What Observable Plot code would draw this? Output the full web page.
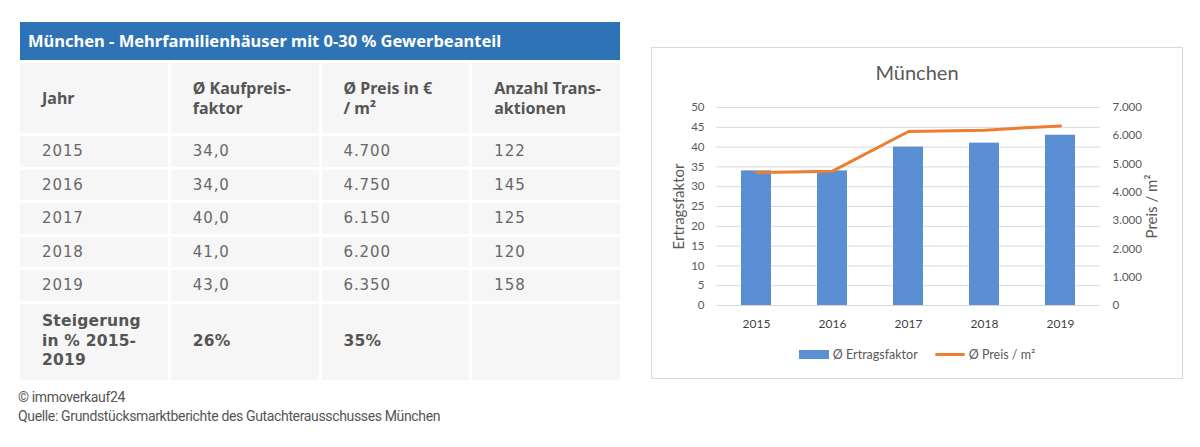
<!DOCTYPE html>
<html>
<head>
<meta charset="utf-8">
<script src="https://cdn.jsdelivr.net/npm/d3@7"></script>
<script src="https://cdn.jsdelivr.net/npm/@observablehq/plot@0.6"></script>
<style>
  html, body { margin: 0; padding: 0; background: #fff; }
  body { width: 1200px; height: 447px; position: relative; overflow: hidden; font-family: "Noto Sans", sans-serif; }
  #tbl { position: absolute; left: 20px; top: 22px; width: 600px; }
  #tbl .head { background: #2e73b6; color: #fff; font-weight: 700; font-size: 16.5px; height: 38px; line-height: 38px; padding-left: 8px; box-sizing: border-box; }
  #tbl .grid { margin-top: 3px; display: grid; grid-template-columns: repeat(4, 1fr); column-gap: 3px; row-gap: 3px; grid-template-rows: 70px repeat(5, 30.5px) 76px; }
  #tbl .cell { background: #f6f6f6; display: flex; align-items: center; padding-left: 22px; box-sizing: border-box; font-size: 15px; color: #686868; letter-spacing: 0.9px; font-family: "DejaVu Sans", sans-serif; font-weight: 400; }
  #tbl .cell.b { font-family: "Noto Sans", sans-serif; font-weight: 700; color: #555; letter-spacing: 0; font-size: 16px; line-height: 20px; }
  #tbl .cell.s { font-family: "DejaVu Sans", sans-serif; font-size: 15.5px; letter-spacing: 0.2px; line-height: 19.5px; }
  #cap { position: absolute; left: 18px; top: 388px; font-family: "Roboto", sans-serif; font-size: 14px; letter-spacing: -0.35px; color: #555; line-height: 19px; }
  #frame { position: absolute; left: 651px; top: 47px; width: 532px; height: 332px; border: 1px solid #d9d9d9; box-sizing: border-box; }
  #ctitle { position: absolute; left: 651px; top: 60px; width: 532px; text-align: center; font-family: Lato, sans-serif; font-size: 20px; color: #595959; }
  #chart { position: absolute; left: 652px; top: 95px; }
  #chart svg g[aria-label="y-axis label"] text { font-size: 15px; }
  #legend { position: absolute; left: 651px; top: 347px; width: 532px; display: flex; justify-content: center; align-items: center; font-family: Lato, sans-serif; font-size: 12.5px; color: #595959; }
  .sw { display: inline-block; width: 30px; margin-right: 4px; }
</style>
</head>
<body>
<div id="tbl"></div>
<div id="cap"></div>
<div id="frame"></div>
<div id="ctitle"></div>
<div id="chart"></div>
<div id="legend"></div>
<script>
// ---- data ----
const tableTitle = "München - Mehrfamilienhäuser mit 0-30 % Gewerbeanteil";
const headers = ["Jahr", "Ø Kaufpreis-<br>faktor", "Ø Preis in €<br>/ m²", "Anzahl Trans-<br>aktionen"];
const years = ["2015", "2016", "2017", "2018", "2019"];
const kaufpreisfaktor = [34.0, 34.0, 40.0, 41.0, 43.0];
const preisProQm = [4700, 4750, 6150, 6200, 6350];
const transaktionen = [122, 145, 125, 120, 158];
const steigerungLabel = "Steigerung<br>in % 2015-<br>2019";
const steigerung = ["26%", "35%", ""];
const captionLines = ["© immoverkauf24", "Quelle: Grundstücksmarktberichte des Gutachterausschusses München"];
const chartTitle = "München";
const leftTicks = [0, 5, 10, 15, 20, 25, 30, 35, 40, 45, 50];
const rightTicks = [0, 1000, 2000, 3000, 4000, 5000, 6000, 7000];
const seriesNames = ["Ø Ertragsfaktor", "Ø Preis / m²"];

const de = d3.formatLocale({decimal: ",", thousands: ".", grouping: [3], currency: ["", " €"]});
const fmtInt = de.format(",");
const fmt1 = de.format(",.1f");

// ---- table ----
const tbl = document.getElementById("tbl");
let html = `<div class="head">${tableTitle}</div><div class="grid">`;
headers.forEach(h => html += `<div class="cell b">${h}</div>`);
years.forEach((y, i) => {
  html += `<div class="cell">${y}</div><div class="cell">${fmt1(kaufpreisfaktor[i])}</div><div class="cell">${fmtInt(preisProQm[i])}</div><div class="cell">${transaktionen[i]}</div>`;
});
html += `<div class="cell b s">${steigerungLabel}</div>`;
steigerung.forEach(s => html += `<div class="cell b s">${s}</div>`);
html += `</div>`;
tbl.innerHTML = html;
document.getElementById("cap").innerHTML = captionLines.join("<br>");
document.getElementById("ctitle").textContent = chartTitle;

// ---- chart ----
const k = rightTicks[rightTicks.length - 1] / leftTicks[leftTicks.length - 1];
const data = years.map((y, i) => ({year: y, ef: kaufpreisfaktor[i], p: preisProQm[i]}));
const colors = ["#5b8fd4", "#ed7d31"];

const plot = Plot.plot({
  width: 530, height: 245,
  marginLeft: 64, marginRight: 82, marginTop: 12, marginBottom: 35,
  style: {fontFamily: "Lato, sans-serif", fontSize: "11.5px", color: "#595959", background: "transparent", overflow: "visible"},
  x: {domain: years, paddingInner: 0.6, paddingOuter: 0.3, label: null},
  y: {domain: [0, 50], label: null},
  marks: [
    Plot.gridY(leftTicks, {stroke: "#d9d9d9", strokeOpacity: 1, strokeWidth: 1}),
    Plot.axisY(leftTicks, {anchor: "left", tickSize: 0, tickPadding: 12, label: "Ertragsfaktor", labelAnchor: "center", labelArrow: "none", labelOffset: 43}),
    Plot.axisY(rightTicks.map(v => v / k), {anchor: "right", tickSize: 0, tickPadding: 12, tickFormat: d => fmtInt(Math.round(d * k)), label: "Preis / m²", labelAnchor: "center", labelArrow: "none", labelOffset: 56}),
    Plot.axisX({tickSize: 0, tickPadding: 14, label: null, fontSize: 12, fill: "#3f3f3f"}),
    Plot.barY(data, {x: "year", y: "ef", fill: colors[0]}),
    Plot.line(data, {x: "year", y: d => d.p / k, stroke: colors[1], strokeWidth: 3})
  ]
});
document.getElementById("chart").appendChild(plot);

document.getElementById("legend").innerHTML =
  `<span class="sw" style="height:9px;background:${colors[0]}"></span><span>${seriesNames[0]}</span>` +
  `<span class="sw" style="height:3px;background:${colors[1]};border-radius:2px;margin-left:17px"></span><span>${seriesNames[1]}</span>`;
</script>
</body>
</html>
